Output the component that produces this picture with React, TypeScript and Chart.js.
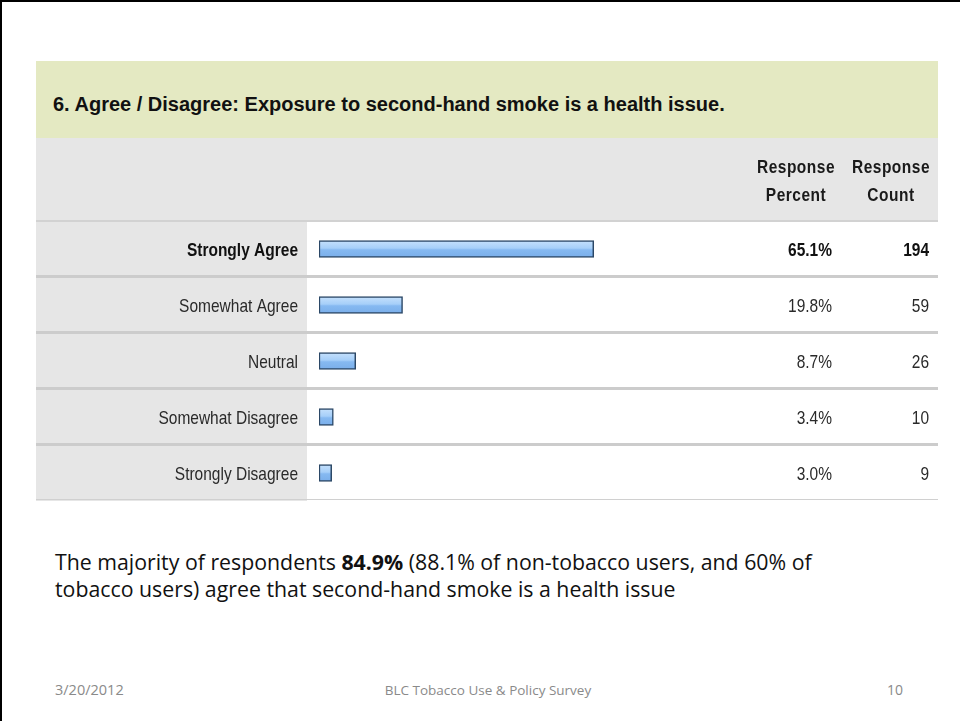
import React, { useEffect, useRef } from "react";
import { Chart, registerables } from "chart.js";

Chart.register(...registerables);

const questionTitle = "6. Agree / Disagree: Exposure to second-hand smoke is a health issue.";
const categories = ["Strongly Agree", "Somewhat Agree", "Neutral", "Somewhat Disagree", "Strongly Disagree"];
const responsePercent = [65.1, 19.8, 8.7, 3.4, 3.0];
const responseCount = [194, 59, 26, 10, 9];
const headerPercent = ["Response", "Percent"];
const headerCount = ["Response", "Count"];
const footerDate = "3/20/2012";
const footerTitle = "BLC Tobacco Use & Policy Survey";
const footerPage = "10";

const SANS = '"Liberation Sans", Arial, sans-serif';
const BODY = '"Open Sans", "Noto Sans", sans-serif';
const STRETCH = 1.2;

function tallText(ctx: CanvasRenderingContext2D, text: string, x: number, y: number) {
  ctx.save();
  ctx.translate(x, y);
  ctx.scale(1, STRETCH);
  ctx.fillText(text, 0, 0);
  ctx.restore();
}

const tablePlugin = {
  id: "surveyTable",
  beforeDraw(chart: any) {
    const { ctx, chartArea, width } = chart;
    const y = chart.scales.y;
    ctx.save();
    ctx.fillStyle = "#ffffff";
    ctx.fillRect(0, 0, width, chart.height);
    ctx.fillStyle = "#e6e6e6";
    ctx.fillRect(0, 0, width, chartArea.top);
    ctx.fillRect(0, chartArea.top, 271, chartArea.bottom - chartArea.top);
    ctx.fillStyle = "#d2d2d2";
    ctx.fillRect(0, chartArea.top - 1, width, 2);
    const n = categories.length;
    for (let i = 0; i < n; i++) {
      const yb = i < n - 1 ? (y.getPixelForValue(i) + y.getPixelForValue(i + 1)) / 2 : chartArea.bottom;
      ctx.fillStyle = i < n - 1 ? "#cccccc" : "#d0d0d0";
      const h = i < n - 1 ? 3 : 1;
      ctx.fillRect(0, Math.round(yb) - 2, width, h);
    }
    ctx.restore();
  },
  afterDatasetsDraw(chart: any) {
    const { ctx, chartArea } = chart;
    const y = chart.scales.y;
    ctx.save();
    ctx.fillStyle = "#1a1a1a";
    ctx.textBaseline = "middle";
    ctx.textAlign = "center";
    ctx.font = `bold 15.5px ${SANS}`;
    (ctx as any).letterSpacing = "0.5px";
    tallText(ctx, headerPercent[0], 760, 30);
    tallText(ctx, headerPercent[1], 760, 58);
    tallText(ctx, headerCount[0], 855, 30);
    tallText(ctx, headerCount[1], 855, 58);
    (ctx as any).letterSpacing = "0px";
    const labels = y.getLabels();
    for (let i = 0; i < labels.length; i++) {
      const py = y.getPixelForTick(i) + 1.5;
      ctx.font = `${i === 0 ? "bold " : ""}15.5px ${SANS}`;
      ctx.fillStyle = i === 0 ? "#111111" : "#2a2a2a";
      ctx.textAlign = "right";
      tallText(ctx, labels[i], chartArea.left - 21, py);
      tallText(ctx, responsePercent[i].toFixed(1) + "%", 796, py);
      tallText(ctx, String(responseCount[i]), 893, py);
    }
    ctx.restore();
  },
};

function SurveyChart() {
  const ref = useRef<HTMLCanvasElement | null>(null);
  useEffect(() => {
    const canvas = ref.current;
    if (!canvas) return;
    const chart = new Chart(canvas, {
      type: "bar",
      data: {
        labels: categories,
        datasets: [
          {
            data: responsePercent,
            barThickness: 17,
            borderWidth: 1.5,
            borderColor: "#2b4766",
            borderSkipped: false,
            backgroundColor: (c: any) => {
              const ch = c.chart;
              const ys = ch.scales && ch.scales.y;
              if (!ys || c.dataIndex === undefined) return "#8cbcf2";
              const cy = ys.getPixelForValue(c.dataIndex);
              if (!isFinite(cy)) return "#8cbcf2";
              const g = ch.ctx.createLinearGradient(0, cy - 8.5, 0, cy + 8.5);
              g.addColorStop(0, "#c6e1fc");
              g.addColorStop(0.45, "#a6cff9");
              g.addColorStop(0.55, "#86b9f1");
              g.addColorStop(1, "#7aaeea");
              return g;
            },
          },
        ],
      },
      options: {
        indexAxis: "y",
        responsive: false,
        animation: false,
        devicePixelRatio: 1,
        layout: { padding: { top: 83, right: 197, bottom: 2, left: 0 } },
        plugins: { legend: { display: false }, tooltip: { enabled: false }, title: { display: false } },
        scales: {
          x: { display: false, min: 0, max: 100 },
          y: {
            grid: { display: false, drawTicks: false },
            border: { display: false },
            afterFit: (s: any) => {
              s.width = 283;
              s.paddingTop = 0;
              s.paddingBottom = 0;
            },
            ticks: { display: false },
          },
        },
      },
      plugins: [tablePlugin],
    } as any);
    return () => chart.destroy();
  }, []);
  return (
    <canvas
      ref={ref}
      width={902}
      height={365}
      style={{ position: "absolute", left: 36, top: 138, width: 902, height: 365 }}
    />
  );
}

const footerStyle: React.CSSProperties = {
  position: "absolute",
  top: 680,
  fontFamily: BODY,
  fontSize: 14,
  lineHeight: "20px",
  color: "#8a8a8a",
  whiteSpace: "nowrap",
};

export default function App() {
  return (
    <div
      style={{
        position: "fixed",
        left: 0,
        top: 0,
        width: 960,
        height: 721,
        background: "#ffffff",
        overflow: "hidden",
      }}
    >
      <div style={{ position: "absolute", left: 0, top: 0, width: 960, height: 2, background: "#000" }} />
      <div style={{ position: "absolute", left: 0, top: 0, width: 2, height: 721, background: "#000" }} />
      <div style={{ position: "absolute", left: 36, top: 61, width: 902, height: 77, background: "#e4e9c2" }} />
      <div
        style={{
          position: "absolute",
          left: 53,
          top: 90,
          height: 28,
          lineHeight: "28px",
          fontFamily: SANS,
          fontWeight: "bold",
          fontSize: 20,
          color: "#111",
          whiteSpace: "nowrap",
        }}
      >
        {questionTitle}
      </div>
      <SurveyChart />
      <div
        style={{
          position: "absolute",
          left: 55,
          top: 548,
          fontFamily: BODY,
          fontSize: 21.3,
          lineHeight: "27px",
          color: "#111",
          whiteSpace: "nowrap",
        }}
      >
        The majority of respondents <b>84.9%</b> (88.1% of non-tobacco users, and 60% of
        <br />
        tobacco users) agree that second-hand smoke is a health issue
      </div>
      <div style={{ ...footerStyle, left: 55, fontSize: 14.5 }}>{footerDate}</div>
      <div style={{ ...footerStyle, left: 288, width: 400, textAlign: "center", fontSize: 13.5 }}>{footerTitle}</div>
      <div style={{ ...footerStyle, right: 57 }}>{footerPage}</div>
    </div>
  );
}
